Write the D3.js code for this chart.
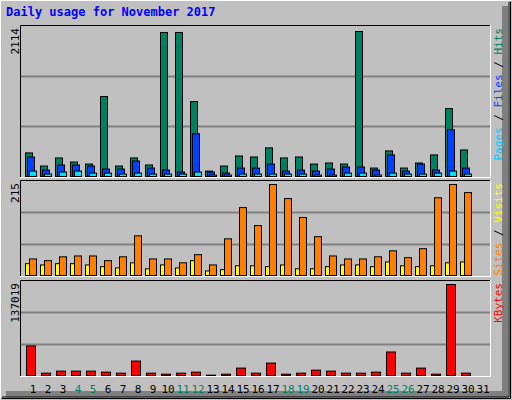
<!DOCTYPE html><html><head><meta charset="utf-8">
<script src="https://cdn.jsdelivr.net/npm/d3@7"></script>
<style>body{margin:0;background:#fff}</style></head><body>
<script>
const days=d3.range(1,32);
const weekend=[4,5,11,12,18,19,25,26];
const hits=[356,166,283,224,195,1172,166,283,181,2100,2100,1099,93,166,312,297,429,283,297,195,210,195,2114,137,385,137,210,327,997,399,0];
const files=[297,108,181,181,166,122,122,239,137,108,79,633,79,64,137,137,195,93,108,93,122,152,152,108,327,93,195,108,691,137,0];
const pages=[93,50,79,93,64,64,50,64,50,50,50,79,35,35,50,50,50,50,50,35,35,64,64,35,64,50,50,64,93,50,0];
const sites=[41,37,46,48,48,37,46,95,41,41,32,51,27,88,161,119,215,182,138,93,48,41,41,46,60,44,65,184,215,196,0];
const visits=[30,27,30,30,27,23,20,32,18,27,20,37,13,16,25,25,23,27,18,18,23,27,27,23,34,25,23,25,32,34,0];
const kbytes=[45500,5000,8000,8000,8000,6500,5000,23000,5000,3500,5000,6500,2000,3500,12500,5000,20000,3500,5000,9500,8000,5000,5000,6500,36500,5000,12500,3500,137019,5000,0];
const W=512,H=400;
const svg=d3.select("body").append("svg").attr("width",W).attr("height",H);
svg.append("rect").attr("width",W).attr("height",H).attr("fill","#c0c0c0");
// 3D frame
svg.append("path").attr("d","M0.5,399.5V0.5H511.5").attr("stroke","#fff").attr("fill","none");
svg.append("path").attr("d","M1.5,398.5H510.5V1.5").attr("stroke","#000").attr("fill","none");
svg.append("path").attr("d","M505,6V394H6").attr("stroke","#808080").attr("stroke-width",6).attr("fill","none");
svg.append("path").attr("d","M2,397H509V2").attr("stroke","#000").attr("fill","none");
svg.append("text").attr("x",6).attr("y",16).attr("fill","#0000ff").attr("font-family","DejaVu Sans Mono").attr("font-weight","bold").attr("font-size",12).text("Daily usage for November 2017");
const x=d3.scaleBand().domain(days).range([25,490]).paddingInner(0);
const mono="DejaVu Sans Mono";
function panel(y0,y1,ymax,barTop,label,legend){
  svg.append("rect").attr("x",20).attr("y",y0).attr("width",470).attr("height",y1-y0).attr("fill","#c0c0c0");
  const y=d3.scaleLinear().domain([0,ymax]).range([y1,barTop]);
  [1,2].forEach(i=>{const gy=Math.round(y1-(y1-y0)*i/3)+0.5;
    svg.append("line").attr("x1",21).attr("x2",490).attr("y1",gy).attr("y2",gy).attr("stroke","#808080").attr("stroke-width",2);});
  svg.append("path").attr("d",`M20.5,${y1}V${y0+0.5}H490`).attr("stroke","#000").attr("fill","none");
  svg.append("path").attr("d",`M20,${y1+0.5}H490.5V${y0}`).attr("stroke","#fff").attr("fill","none");
  svg.append("text").attr("transform",`translate(19,${y0+3}) rotate(-90)`).attr("text-anchor","end").attr("font-family",mono).attr("font-size",11).attr("fill","#000").text(label);
  const t=svg.append("text").attr("transform",`translate(502,${y0+3}) rotate(-90)`).attr("text-anchor","end").attr("font-family",mono).attr("font-size",11);
  legend.forEach((l,i)=>{ if(i>0) t.append("tspan").attr("fill","#000").text(" / "); t.append("tspan").attr("fill",l[1]).text(l[0]);});
  return y;
}
function bars(y,data,color,off,w,y1){
  svg.append("g").selectAll("rect").data(data.map((v,i)=>({d:days[i],v})).filter(o=>o.v>0)).join("rect")
   .attr("x",o=>x(o.d)+off+0.5).attr("width",w).attr("y",o=>y(o.v)+0.5).attr("height",o=>Math.max(0,y1-y(o.v)-1))
   .attr("fill",color).attr("stroke","#000").attr("stroke-width",1);
}
let y=panel(25,177,2114,31,"2114",[["Pages","#00c8ff"],["Files","#0040ff"],["Hits","#008060"]]);
bars(y,hits,"#008060",0,7,177);bars(y,files,"#0040ff",2,7,177);bars(y,pages,"#00e0ff",4,7,177);
y=panel(180,276,215,184,"215",[["Sites","#ff8000"],["Visits","#ffff00"]]);
bars(y,visits,"#ffff00",0,4,276);bars(y,sites,"#ff8000",4,7,276);
y=panel(280,376,137019,284,"137019",[["KBytes","#ff0000"]]);
bars(y,kbytes,"#ff0000",1,9,376);
svg.append("g").selectAll("text").data(days).join("text").attr("x",d=>x(d)+8).attr("y",393).attr("text-anchor","middle")
 .attr("font-family",mono).attr("font-size",11).attr("fill",d=>weekend.includes(d)?"#008060":"#000").text(d=>d);
</script></body></html>
